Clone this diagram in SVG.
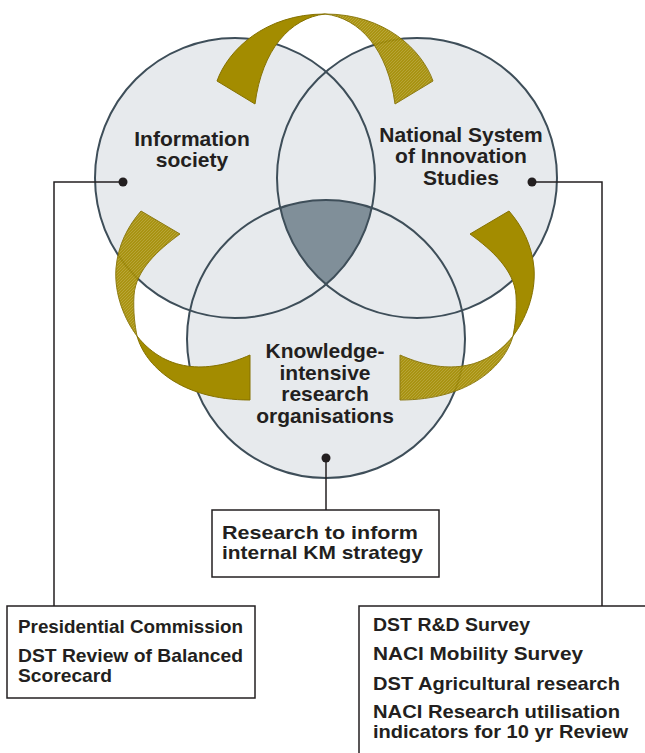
<svg xmlns="http://www.w3.org/2000/svg" width="645" height="753" viewBox="0 0 645 753">
<style>
.circ{fill:#e7eaed;stroke:none}
.ring{fill:none;stroke:#3e4e59;stroke-width:2}
.lbl{font-family:"Liberation Sans",Arial,sans-serif;font-weight:bold;font-size:21px;fill:#231f20;text-anchor:middle}
.btxt{font-family:"Liberation Sans",Arial,sans-serif;font-weight:bold;font-size:18.5px;fill:#231f20}
.box{fill:#ffffff;stroke:#231f20;stroke-width:1.5}
.conn{fill:none;stroke:#231f20;stroke-width:1.5}
.dot{fill:#231f20}
.solid{fill:#a38c00;stroke:#857100;stroke-width:1}
.hatch{fill:url(#hp);stroke:#857100;stroke-width:1;opacity:0.92}
</style>
<defs>
<pattern id="hp" patternUnits="userSpaceOnUse" width="3" height="3">
<rect width="3" height="3" fill="#a38c00"/>
<path d="M0,3 L3,0" stroke="#bba83a" stroke-width="0.7"/>
</pattern>
</defs>
<rect width="645" height="753" fill="#ffffff"/>
<g id="circles">
<circle class="circ" cx="235" cy="178" r="140"/>
<circle class="circ" cx="417" cy="178" r="140"/>
<circle class="circ" cx="326" cy="339" r="139"/>
<path id="core" d="M280.2,207.7 A139,139 0 0 1 371.8,207.7 A140,140 0 0 1 326,284.4 A140,140 0 0 1 280.2,207.7 Z" fill="#808f99"/>
<circle class="ring" cx="235" cy="178" r="140"/>
<circle class="ring" cx="417" cy="178" r="140"/>
<circle class="ring" cx="326" cy="339" r="139"/>
</g>
<g id="ribbons">
<path class="solid" d="M217,81 C228,50 265,14 325,14 C290,18 262,50 255,104 Z"/>
<path class="hatch" d="M433,81 C422,50 385,14 325,14 C360,18 388,50 395,104 Z"/>
<path class="hatch" d="M141,211 L180,234 C158,250 136,270 134,295 C133,312 135,326 137,336 C125,320 114,295 116,268 C118,245 128,226 141,211 Z"/>
<path class="solid" d="M137,336 C145,365 180,400 250,400 L250,355 C212,372 168,375 137,336 Z"/>
<path class="solid" d="M509,211 L470,234 C492,250 514,270 516,295 C517,312 515,326 513,336 C525,320 536,295 534,268 C532,245 522,226 509,211 Z"/>
<path class="hatch" d="M513,336 C505,365 470,400 400,400 L400,355 C438,372 482,375 513,336 Z"/>
</g>
<g id="connectors">
<path class="conn" d="M123,182 H54 V606"/>
<path class="conn" d="M532,182 H602 V606"/>
<path class="conn" d="M326,458 V510"/>
</g>
<g id="node-info">
<text class="lbl" x="192" y="146">Information</text>
<text class="lbl" x="192" y="167">society</text>
<circle class="dot" cx="123" cy="182" r="4.5"/>
</g>
<g id="node-nsi">
<text class="lbl" x="461" y="142">National System</text>
<text class="lbl" x="461" y="163">of Innovation</text>
<text class="lbl" x="461" y="185">Studies</text>
<circle class="dot" cx="532" cy="182" r="4.5"/>
</g>
<g id="node-kiro">
<text class="lbl" x="325" y="358">Knowledge-</text>
<text class="lbl" x="325" y="380">intensive</text>
<text class="lbl" x="325" y="401">research</text>
<text class="lbl" x="325" y="423">organisations</text>
<circle class="dot" cx="326" cy="458" r="4.5"/>
</g>
<g id="box-km">
<rect class="box" x="212" y="510" width="227" height="67"/>
<text class="btxt" x="222" y="539" textLength="196" lengthAdjust="spacingAndGlyphs">Research to inform</text>
<text class="btxt" x="222" y="559" textLength="201" lengthAdjust="spacingAndGlyphs">internal KM strategy</text>
</g>
<g id="box-left">
<rect class="box" x="7" y="606" width="248" height="92"/>
<text class="btxt" x="18" y="633" textLength="225" lengthAdjust="spacingAndGlyphs">Presidential Commission</text>
<text class="btxt" x="18" y="662" textLength="225" lengthAdjust="spacingAndGlyphs">DST Review of Balanced</text>
<text class="btxt" x="18" y="682" textLength="94" lengthAdjust="spacingAndGlyphs">Scorecard</text>
</g>
<g id="box-right">
<rect class="box" x="359" y="606" width="300" height="160"/>
<text class="btxt" x="373" y="631" textLength="157" lengthAdjust="spacingAndGlyphs">DST R&amp;D Survey</text>
<text class="btxt" x="373" y="660" textLength="210" lengthAdjust="spacingAndGlyphs">NACI Mobility Survey</text>
<text class="btxt" x="373" y="690" textLength="247" lengthAdjust="spacingAndGlyphs">DST Agricultural research</text>
<text class="btxt" x="373" y="718" textLength="247" lengthAdjust="spacingAndGlyphs">NACI Research utilisation</text>
<text class="btxt" x="373" y="738" textLength="255" lengthAdjust="spacingAndGlyphs">indicators for 10 yr Review</text>
</g>
</svg>
